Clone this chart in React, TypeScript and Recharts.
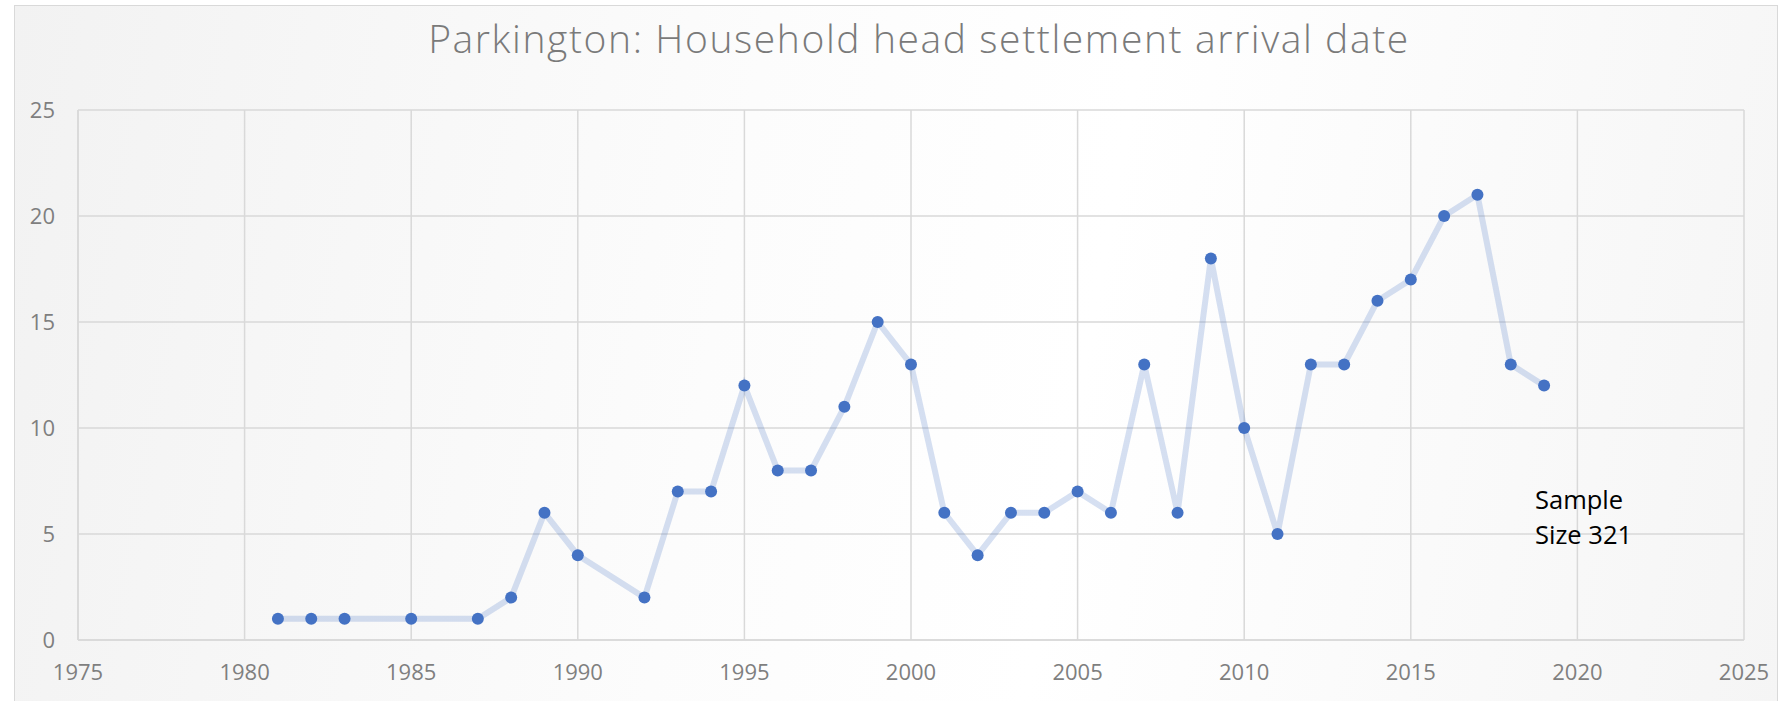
import React from 'react';
import { LineChart, Line, XAxis, YAxis, CartesianGrid } from 'recharts';

const years = [1981, 1982, 1983, 1985, 1987, 1988, 1989, 1990, 1992, 1993, 1994, 1995, 1996, 1997, 1998, 1999, 2000, 2001, 2002, 2003, 2004, 2005, 2006, 2007, 2008, 2009, 2010, 2011, 2012, 2013, 2014, 2015, 2016, 2017, 2018, 2019];
const counts = [1, 1, 1, 1, 1, 2, 6, 4, 2, 7, 7, 12, 8, 8, 11, 15, 13, 6, 4, 6, 6, 7, 6, 13, 6, 18, 10, 5, 13, 13, 16, 17, 20, 21, 13, 12];
const xTicks = [1975, 1980, 1985, 1990, 1995, 2000, 2005, 2010, 2015, 2020, 2025];
const yTicks = [0, 5, 10, 15, 20, 25];
const title = 'Parkington: Household head settlement arrival date';
const noteLines = ['Sample', 'Size 321'];

const data = years.map((y, i) => ({ year: y, count: counts[i] }));

const W = 1787;
const H = 701;
const tickStyle = { fill: '#7f7f7f', fontSize: 22, fontFamily: '"Open Sans", sans-serif' };

export default function App() {
  return (
    <div style={{ position: 'absolute', left: 0, top: 0, width: W, height: H, overflow: 'hidden', background: '#ffffff' }}>
      <div
        style={{
          position: 'absolute',
          left: 14,
          top: 5,
          width: 1764,
          height: 720,
          border: '1.5px solid #d9d9d9',
          boxSizing: 'border-box',
          background: 'linear-gradient(100deg, #f2f2f2 0%, #fcfcfc 40%, #ffffff 60%, #f5f5f5 100%)',
        }}
      />
      <div
        style={{
          position: 'absolute',
          left: 0,
          width: 1838,
          top: 11,
          textAlign: 'center',
          fontFamily: '"Open Sans", sans-serif',
          fontWeight: 300,
          fontSize: 39,
          letterSpacing: 1.6,
          color: '#7a7a7a',
          whiteSpace: 'nowrap',
        }}
      >
        {title}
      </div>
      <div style={{ position: 'absolute', left: 0, top: 0 }}>
        <LineChart width={W} height={H} data={data} margin={{ top: 110, right: 43, bottom: 21, left: 18 }}>
          <CartesianGrid stroke="#d9d9d9" strokeWidth={1.5} />
          <XAxis
            dataKey="year"
            type="number"
            domain={[1975, 2025]}
            ticks={xTicks}
            interval={0}
            height={40}
            tickLine={false}
            tickMargin={18}
            axisLine={{ stroke: '#d9d9d9', strokeWidth: 1.5 }}
            tick={tickStyle}
          />
          <YAxis
            type="number"
            domain={[0, 25]}
            ticks={yTicks}
            interval={0}
            width={60}
            tickLine={false}
            tickMargin={17}
            axisLine={{ stroke: '#d9d9d9', strokeWidth: 1.5 }}
            tick={tickStyle}
          />
          <Line
            dataKey="count"
            type="linear"
            stroke="#4472C4"
            strokeOpacity={0.22}
            strokeWidth={6}
            dot={{ r: 6, fill: '#4472C4', stroke: 'none', strokeWidth: 0, fillOpacity: 1 }}
            activeDot={false}
            isAnimationActive={false}
          />
        </LineChart>
      </div>
      <div
        style={{
          position: 'absolute',
          left: 1535,
          top: 482,
          fontFamily: '"Open Sans", sans-serif',
          fontSize: 25.5,
          lineHeight: '35px',
          color: '#000000',
        }}
      >
        {noteLines.map((l) => (
          <div key={l}>{l}</div>
        ))}
      </div>
    </div>
  );
}
